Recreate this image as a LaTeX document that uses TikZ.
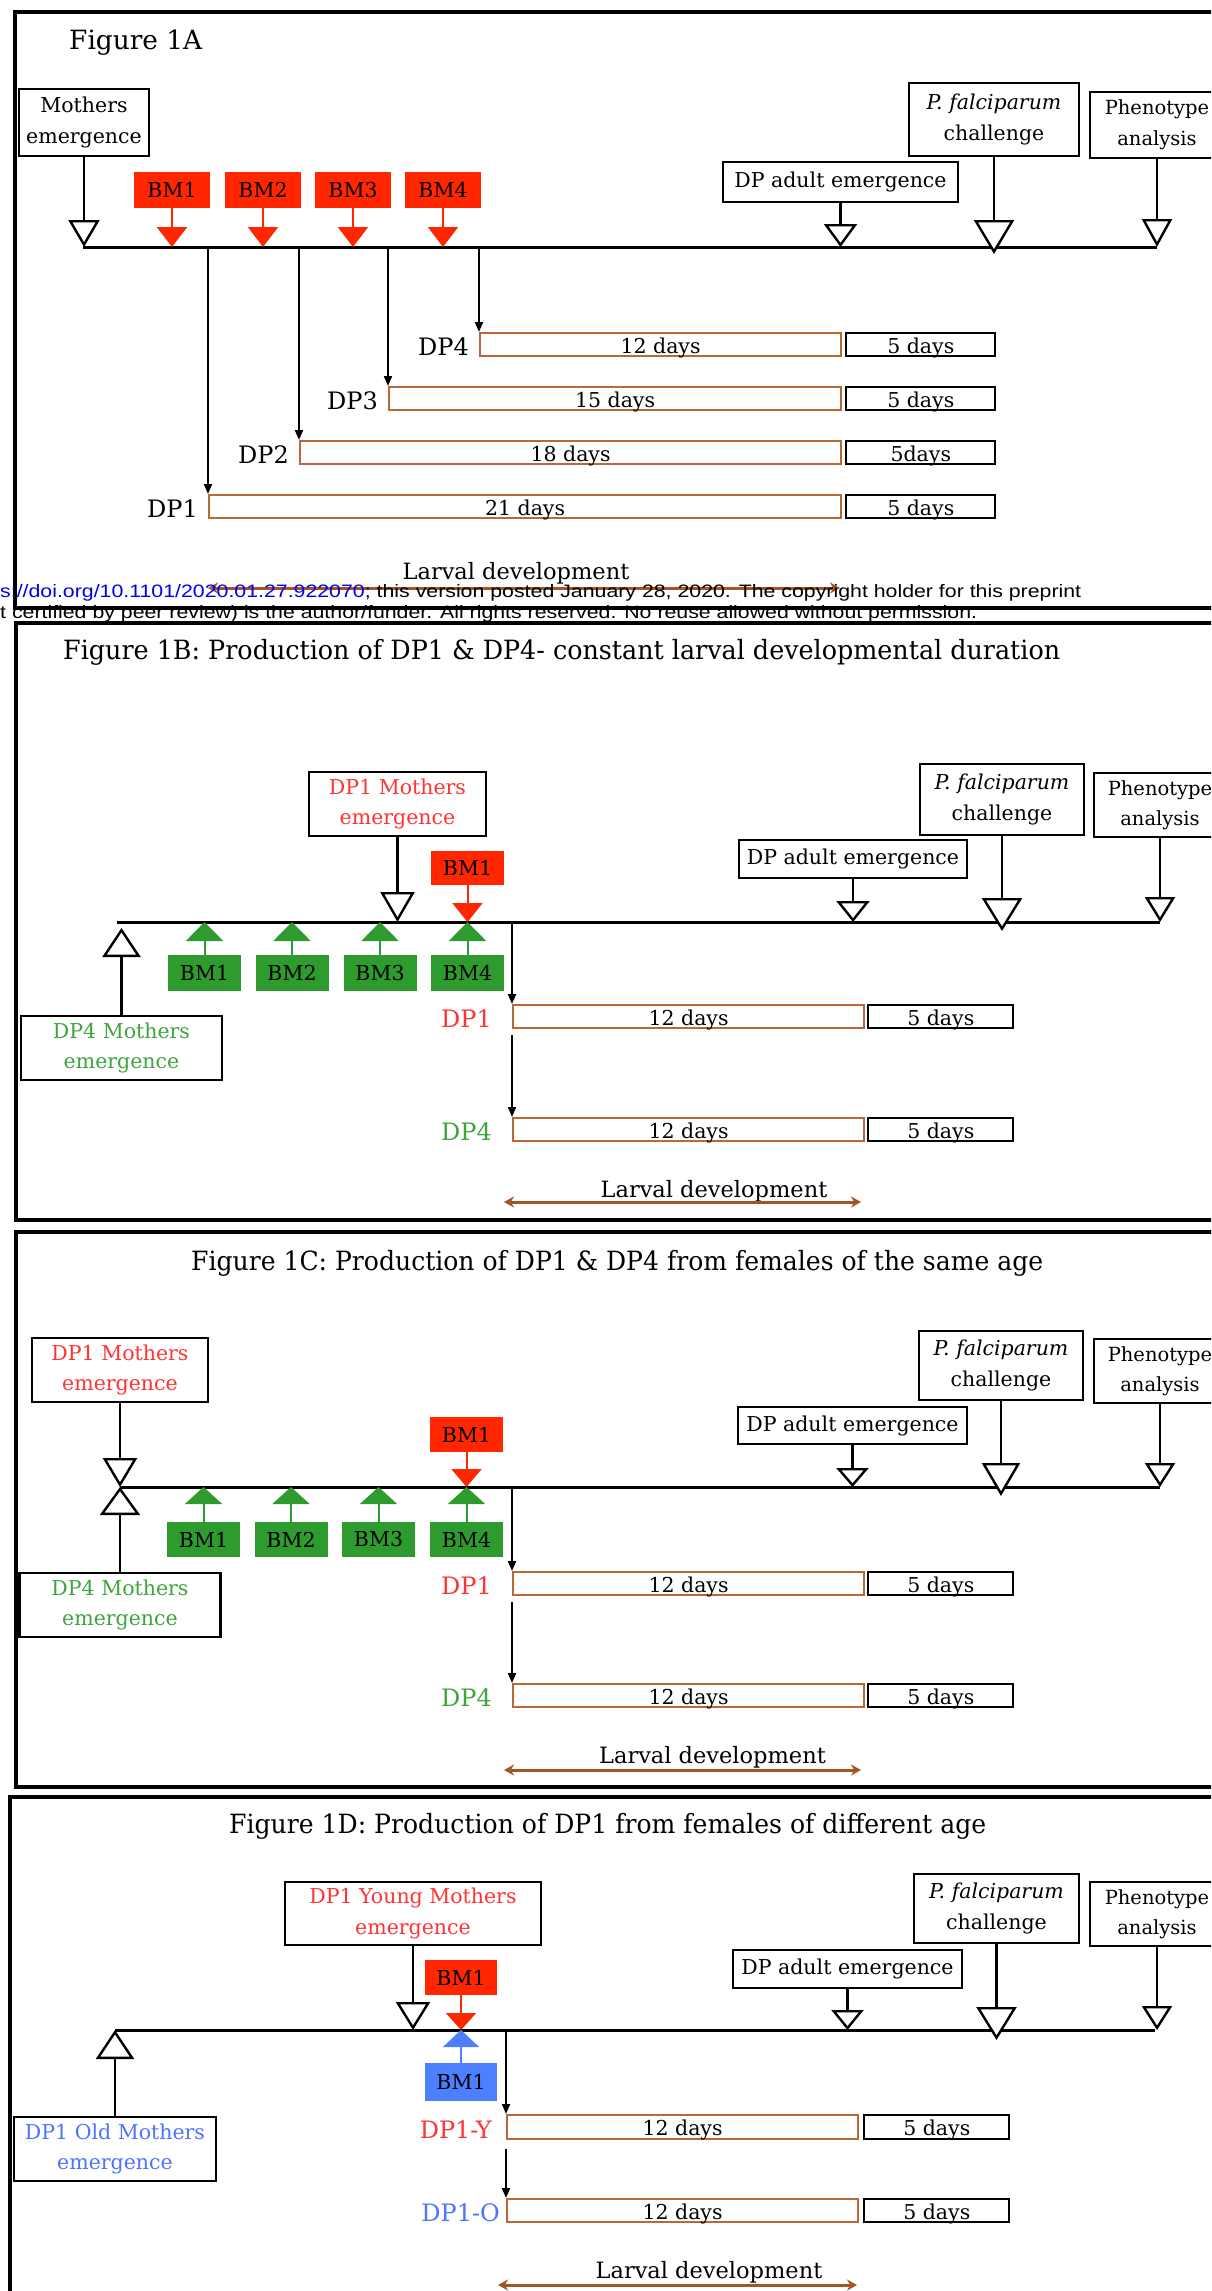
\documentclass[tikz,border=0pt]{standalone}
\usepackage{fontspec}
\setmainfont{DejaVu Serif}
\newfontfamily\wmfont{Liberation Sans}
\usepackage{graphicx}
\usetikzlibrary{arrows.meta,calc}
\definecolor{bmred}{RGB}{255,38,0}
\definecolor{txred}{RGB}{255,51,51}
\definecolor{bmgreen}{RGB}{46,155,46}
\definecolor{txgreen}{RGB}{60,165,60}
\definecolor{bmblue}{RGB}{77,128,255}
\definecolor{txblue}{RGB}{77,115,255}
\definecolor{obrown}{RGB}{185,105,55}
\definecolor{larvc}{RGB}{165,85,35}
\definecolor{wmblue}{RGB}{0,0,238}
\newcommand{\fnBox}{\fontsize{20.5}{30.5}\selectfont}
\newcommand{\fnPh}{\fontsize{19.5}{30.5}\selectfont}
\newcommand{\fnRow}{\fontsize{20.5}{24}\selectfont}
\newcommand{\fnLab}{\fontsize{24}{28}\selectfont}
\newcommand{\fnLarv}{\fontsize{22.5}{26}\selectfont}
\newcommand{\fnTitle}{\fontsize{26.5}{30}\selectfont}
\newcommand{\fnWM}{\wmfont\fontsize{18}{20}\selectfont}
\tikzset{
  frame/.style={draw=black, line width=3.5pt},
  box/.style={draw=black, line width=2.4pt, fill=white, inner sep=0pt, align=center, font=\fnBox},
  phbox/.style={box, font=\fnPh},
  bmbox/.style={fill=#1, inner sep=0pt, font=\fnBox, text=black},
  tline/.style={draw=black, line width=3pt},
  stem/.style 2 args={draw=black, line width=2.4pt, -{Triangle[length=#1pt,width=#2pt,fill=white]}},
  fillarr/.style n args={3}{draw=#1, line width=2pt, -{Triangle[length=#2pt,width=#3pt]}},
  drop/.style={draw=black, line width=2pt, -{Triangle[length=10pt,width=8pt]}},
  orow/.style={draw=obrown, line width=2.2pt, inner sep=0pt, anchor=north west, font=\fnRow, text height=18pt, text depth=1pt, minimum height=23pt},
  krow/.style={orow, draw=black},
  lab/.style={font=\fnLab, anchor=base east, inner sep=0pt},
  larv/.style={draw=larvc, line width=3pt, {Stealth[length=10pt,width=11pt]}-{Stealth[length=10pt,width=11pt]}},
  larvtext/.style={font=\fnLarv, anchor=base, inner sep=0pt},
  title/.style={font=\fnTitle, anchor=base west, inner sep=0pt},
  wm/.style={font=\fnWM, anchor=base west, inner sep=0pt}
}
\begin{document}
\begin{tikzpicture}[x=1pt,y=-1pt]
\useasboundingbox (0,0) rectangle (1211,2291);
\fill[white] (0,0) rectangle (1211,2291);
\clip (0,0) rectangle (1211,2291);

% ---------------- frames ----------------
\draw[frame] (15,12) rectangle (1240,608);
\draw[frame] (16,623) rectangle (1240,1220);
\draw[frame] (16,1232) rectangle (1240,1787);
\draw[frame] (10,1797) rectangle (1240,2340);

% ================= PANEL A =================
\node[title] (tA) at (69,49) {\resizebox{133pt}{\height}{Figure 1A}};
\coordinate (tlA0) at (83,247);
\coordinate (tlA1) at (1157,247);
\draw[tline] (tlA0) -- (tlA1);

\node[box, minimum width=130pt, minimum height=67pt] (mA) at (84,122.5) {Mothers\\emergence};
\node[bmbox=bmred, minimum width=76pt, minimum height=36pt] (bA1) at (172,190) {BM1};
\node[bmbox=bmred, minimum width=76pt, minimum height=36pt] (bA2) at (263,190) {BM2};
\node[bmbox=bmred, minimum width=76pt, minimum height=36pt] (bA3) at (353,190) {BM3};
\node[bmbox=bmred, minimum width=76pt, minimum height=36pt] (bA4) at (443,190) {BM4};
\node[box, minimum width=235pt, minimum height=40pt] (dA) at (840.5,182) {DP adult emergence};
\node[box, minimum width=170pt, minimum height=73pt] (pA) at (994,119.5) {\textit{P. falciparum}\\challenge};
\node[phbox, minimum width=134pt, minimum height=66pt] (phA) at (1157,125) {Phenotype\\analysis};

\draw[stem={27}{31}] (mA.south) -- (mA.south |- tlA0);
\foreach \b in {bA1,bA2,bA3,bA4}{\draw[fillarr={bmred}{20}{30}] (\b.south) -- (\b.south |- tlA0);}
\draw[stem={23}{33}] (dA.south) -- (dA.south |- tlA0);
\draw[stem={34}{40}] (pA.south) -- ($(pA.south |- tlA0)+(0,7)$);
\draw[stem={28}{30}] (phA.south) -- (phA.south |- tlA0);

% rows A
\node[orow, minimum width=361pt] (oA4) at (479,332) {12 days};
\node[krow, minimum width=149pt] (kA4) at ([xshift=3pt]oA4.north east) {5 days};
\node[lab] (lA4) at ([xshift=-10pt,yshift=2pt]oA4.south west) {DP4};
\node[orow, minimum width=452pt] (oA3) at (388,386) {15 days};
\node[krow, minimum width=149pt] (kA3) at ([xshift=3pt]oA3.north east) {5 days};
\node[lab] (lA3) at ([xshift=-10pt,yshift=2pt]oA3.south west) {DP3};
\node[orow, minimum width=541pt] (oA2) at (299,440) {18 days};
\node[krow, minimum width=149pt] (kA2) at ([xshift=3pt]oA2.north east) {5days};
\node[lab] (lA2) at ([xshift=-10pt,yshift=2pt]oA2.south west) {DP2};
\node[orow, minimum width=632pt] (oA1) at (208,494) {21 days};
\node[krow, minimum width=149pt] (kA1) at ([xshift=3pt]oA1.north east) {5 days};
\node[lab] (lA1) at ([xshift=-10pt,yshift=2pt]oA1.south west) {DP1};
\foreach \r in {oA1,oA2,oA3,oA4}{
  \coordinate (s\r) at (\r.north west |- tlA0);
  \draw[drop] (s\r) -- (\r.north west);}

\node[larvtext] (ldA) at (516,579) {Larval development};
\coordinate (lvA0) at (208,588);
\coordinate (lvA1) at (840,588);
\draw[larv] (lvA0) -- (lvA1);

% watermark
\node[wm] (wm1) at (0,597) {\resizebox{1081pt}{\height}{\textcolor{wmblue}{s://doi.org/10.1101/2020.01.27.922070}; this version posted January 28, 2020. The copyright holder for this preprint}};
\node[wm] (wm2) at (0,618) {\resizebox{977pt}{\height}{t certified by peer review) is the author/funder. All rights reserved. No reuse allowed without permission.}};

% ================= PANEL B =================
\node[title] (tB) at (63,659) {\resizebox{997pt}{\height}{Figure 1B: Production of DP1 \& DP4- constant larval developmental duration}};
\coordinate (tlB0) at (117,922);
\coordinate (tlB1) at (1160,922);
\draw[tline] (tlB0) -- (tlB1);

\node[box, minimum width=177pt, minimum height=64pt, text=txred] (m1B) at (397.5,804) {DP1 Mothers\\emergence};
\node[bmbox=bmred, minimum width=73pt, minimum height=34pt] (bB) at (467.5,868) {BM1};
\node[box, minimum width=164pt, minimum height=71pt] (pB) at (1002,799.5) {\textit{P. falciparum}\\challenge};
\node[phbox, minimum width=132pt, minimum height=64pt] (phB) at (1160,805) {Phenotype\\analysis};
\node[box, minimum width=228pt, minimum height=38pt] (dB) at (853,859) {DP adult emergence};
\node[box, minimum width=201pt, minimum height=64pt, text=txgreen] (m4B) at (121.5,1048) {DP4 Mothers\\emergence};
\node[bmbox=bmgreen, minimum width=73pt, minimum height=36pt] (gB1) at (204.5,973) {BM1};
\node[bmbox=bmgreen, minimum width=73pt, minimum height=36pt] (gB2) at (292,973) {BM2};
\node[bmbox=bmgreen, minimum width=73pt, minimum height=36pt] (gB3) at (380,973) {BM3};
\node[bmbox=bmgreen, minimum width=73pt, minimum height=36pt] (gB4) at (467.5,973) {BM4};

\draw[stem={30}{34}] (m1B.south) -- (m1B.south |- tlB0);
\draw[fillarr={bmred}{19}{30}] (bB.south) -- (bB.south |- tlB0);
\draw[stem={33}{40}] (pB.south) -- ($(pB.south |- tlB0)+(0,9)$);
\draw[stem={25}{30}] (phB.south) -- (phB.south |- tlB0);
\draw[stem={21}{33}] (dB.south) -- (dB.south |- tlB0);
\draw[stem={29}{38}] (m4B.north) -- ($(m4B.north |- tlB0)+(0,6)$);
\foreach \g in {gB1,gB2,gB3,gB4}{\draw[fillarr={bmgreen}{19}{37}] (\g.north) -- (\g.north |- tlB0);}

\node[orow, minimum width=351pt] (oB1) at (512,1004) {12 days};
\node[krow, minimum width=145pt] (kB1) at ([xshift=2pt]oB1.north east) {5 days};
\node[lab, text=txred] (lB1) at ([xshift=-20pt,yshift=2pt]oB1.south west) {DP1};
\node[orow, minimum width=351pt] (oB4) at (512,1117) {12 days};
\node[krow, minimum width=145pt] (kB4) at ([xshift=2pt]oB4.north east) {5 days};
\node[lab, text=txgreen] (lB4) at ([xshift=-20pt,yshift=2pt]oB4.south west) {DP4};
\coordinate (sB1) at (oB1.north west |- tlB0);
\draw[drop] (sB1) -- (oB1.north west);
\coordinate (sB4) at ($(oB1.south west)+(0,6)$);
\draw[drop] (sB4) -- (oB4.north west);

\node[larvtext] (ldB) at (714,1197) {Larval development};
\coordinate (lvB0) at (504,1202);
\coordinate (lvB1) at (861,1202);
\draw[larv] (lvB0) -- (lvB1);

% ================= PANEL C =================
\node[title] (tC) at (191,1270) {\resizebox{852pt}{\height}{Figure 1C: Production of DP1 \& DP4 from females of the same age}};
\coordinate (tlC0) at (120,1487);
\coordinate (tlC1) at (1160,1487);
\draw[tline] (tlC0) -- (tlC1);

\node[box, minimum width=176pt, minimum height=64pt, text=txred] (m1C) at (120,1370) {DP1 Mothers\\emergence};
\node[box, minimum width=201pt, minimum height=64pt, text=txgreen] (m4C) at (120,1605) {DP4 Mothers\\emergence};
\node[bmbox=bmred, minimum width=73pt, minimum height=35pt] (bC) at (466.5,1434.5) {BM1};
\node[bmbox=bmgreen, minimum width=73pt, minimum height=35pt] (gC1) at (203.5,1539.5) {BM1};
\node[bmbox=bmgreen, minimum width=73pt, minimum height=35pt] (gC2) at (291,1539.5) {BM2};
\node[bmbox=bmgreen, minimum width=73pt, minimum height=35pt] (gC3) at (378.5,1539.5) {BM3};
\node[bmbox=bmgreen, minimum width=73pt, minimum height=35pt] (gC4) at (466.5,1539.5) {BM4};
\node[box, minimum width=164pt, minimum height=69pt] (pC) at (1001,1365.5) {\textit{P. falciparum}\\challenge};
\node[phbox, minimum width=132pt, minimum height=64pt] (phC) at (1160,1371) {Phenotype\\analysis};
\node[box, minimum width=229pt, minimum height=37pt] (dC) at (852.5,1425.5) {DP adult emergence};

\draw[stem={29}{34}] (m1C.south) -- (m1C.south |- tlC0);
\draw[stem={28}{40}] (m4C.north) -- (m4C.north |- tlC0);
\draw[fillarr={bmred}{18}{30}] (bC.south) -- (bC.south |- tlC0);
\foreach \g in {gC1,gC2,gC3,gC4}{\draw[fillarr={bmgreen}{17}{37}] (\g.north) -- (\g.north |- tlC0);}
\draw[stem={33}{38}] (pC.south) -- ($(pC.south |- tlC0)+(0,9)$);
\draw[stem={24}{30}] (phC.south) -- (phC.south |- tlC0);
\draw[stem={19}{32}] (dC.south) -- (dC.south |- tlC0);

\node[orow, minimum width=351pt] (oC1) at (512,1571) {12 days};
\node[krow, minimum width=145pt] (kC1) at ([xshift=2pt]oC1.north east) {5 days};
\node[lab, text=txred] (lC1) at ([xshift=-20pt,yshift=2pt]oC1.south west) {DP1};
\node[orow, minimum width=351pt] (oC4) at (512,1683) {12 days};
\node[krow, minimum width=145pt] (kC4) at ([xshift=2pt]oC4.north east) {5 days};
\node[lab, text=txgreen] (lC4) at ([xshift=-20pt,yshift=2pt]oC4.south west) {DP4};
\coordinate (sC1) at (oC1.north west |- tlC0);
\draw[drop] (sC1) -- (oC1.north west);
\coordinate (sC4) at ($(oC1.south west)+(0,6)$);
\draw[drop] (sC4) -- (oC4.north west);

\node[larvtext] (ldC) at (712.5,1763) {Larval development};
\coordinate (lvC0) at (504,1770);
\coordinate (lvC1) at (861,1770);
\draw[larv] (lvC0) -- (lvC1);

% ================= PANEL D =================
\node[title] (tD) at (229,1833) {\resizebox{757pt}{\height}{Figure 1D: Production of DP1 from females of different age}};
\coordinate (tlD0) at (115,2030);
\coordinate (tlD1) at (1155,2030);
\draw[tline] (tlD0) -- (tlD1);

\node[box, minimum width=256pt, minimum height=63pt, text=txred] (yM) at (413,1913.5) {DP1 Young Mothers\\emergence};
\node[bmbox=bmred, minimum width=72pt, minimum height=35pt] (bD) at (461,1977.5) {BM1};
\node[bmbox=bmblue, minimum width=72pt, minimum height=38pt] (bDb) at (461,2082) {BM1};
\node[box, minimum width=202pt, minimum height=64pt, text=txblue] (oM) at (115,2149) {DP1 Old Mothers\\emergence};
\node[box, minimum width=165pt, minimum height=69pt] (pD) at (996.5,1908.5) {\textit{P. falciparum}\\challenge};
\node[phbox, minimum width=134pt, minimum height=64pt] (phD) at (1157,1914) {Phenotype\\analysis};
\node[box, minimum width=229pt, minimum height=38pt] (dD) at (847.5,1969) {DP adult emergence};

\draw[stem={28}{34}] (yM.south) -- (yM.south |- tlD0);
\draw[fillarr={bmred}{17}{30}] (bD.south) -- (bD.south |- tlD0);
\draw[fillarr={bmblue}{17}{36}] (bDb.north) -- (bDb.north |- tlD0);
\draw[stem={29}{38}] (oM.north) -- (oM.north |- tlD0);
\draw[stem={33}{40}] (pD.south) -- ($(pD.south |- tlD0)+(0,10)$);
\draw[stem={24}{30}] (phD.south) -- (phD.south |- tlD0);
\draw[stem={20}{32}] (dD.south) -- (dD.south |- tlD0);

\node[orow, minimum width=351pt, minimum height=24pt] (oD1) at (506,2114) {12 days};
\node[krow, minimum width=145pt, minimum height=24pt] (kD1) at ([xshift=4pt]oD1.north east) {5 days};
\node[lab, text=txred] (lD1) at ([xshift=-14pt,yshift=2pt]oD1.south west) {DP1-Y};
\node[orow, minimum width=351pt] (oD2) at (506,2198) {12 days};
\node[krow, minimum width=145pt] (kD2) at ([xshift=4pt]oD2.north east) {5 days};
\node[lab, text=txblue] (lD2) at ([xshift=-6pt,yshift=2pt]oD2.south west) {DP1-O};
\coordinate (sD1) at (oD1.north west |- tlD0);
\draw[drop] (sD1) -- (oD1.north west);
\coordinate (sD2) at ($(oD1.south west)+(0,9)$);
\draw[drop] (sD2) -- (oD2.north west);

\node[larvtext] (ldD) at (709,2278) {Larval development};
\coordinate (lvD0) at (498,2285);
\coordinate (lvD1) at (857,2285);
\draw[larv] (lvD0) -- (lvD1);
\end{tikzpicture}
\end{document}
